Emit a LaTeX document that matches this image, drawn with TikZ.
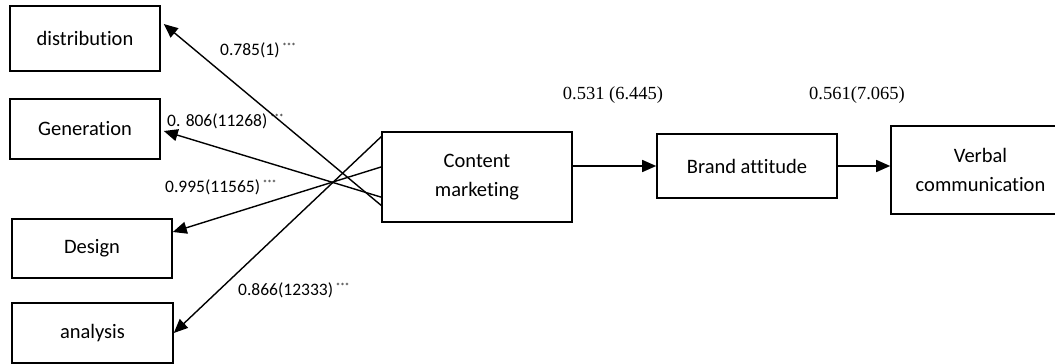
\documentclass[tikz,border=0pt]{standalone}
\usepackage{fontspec}
\setmainfont[Ligatures=NoCommon]{Carlito}
\newfontfamily\numserif{Liberation Serif}
\usetikzlibrary{arrows.meta,calc}
\tikzset{
  box/.style={draw, line width=1.6pt, inner sep=0pt, align=center, font=\fontsize{20.5}{29}\selectfont},
  link/.style={line width=1.4pt, -{Triangle[length=14pt,width=12pt]}},
  coef/.style={inner sep=0pt, anchor=west, font=\fontsize{17.5}{20}\selectfont},
  path/.style={inner sep=0pt, font=\numserif\fontsize{18.5}{20}\selectfont}
}
\newcommand{\stars}{\,\raisebox{6pt}{\fontsize{9}{9}\selectfont ***}}
\begin{document}
\begin{tikzpicture}[x=1pt,y=-1pt]
\useasboundingbox (0,0) rectangle (1055,364);

% outcome boxes on the left
\node[box, minimum width=150pt, minimum height=65pt] (dist) at (85,38.5) {distribution};
\node[box, minimum width=150pt, minimum height=60pt] (gen)  at (85,129) {Generation};
\node[box, minimum width=160pt, minimum height=59pt] (des)  at (92,248.5) {Design};
\node[box, minimum width=161pt, minimum height=60pt] (ana)  at (92.5,333) {analysis};

% main chain
\node[box, minimum width=190pt, minimum height=90pt] (cm) at (477,177) {Content\\marketing};
\node[box, minimum width=180pt, minimum height=64pt] (ba) at (747,166) {Brand attitude};
\node[box, minimum width=179pt, minimum height=88pt] (vc) at (980.5,170) {Verbal\\communication};

% start points on the left side of Content marketing
\coordinate (s1) at ($(cm.north west)!0.81!(cm.south west)$);
\coordinate (s2) at ($(cm.north west)!0.72!(cm.south west)$);
\coordinate (s3) at ($(cm.north west)!0.39!(cm.south west)$);
\coordinate (s4) at ($(cm.north west)!0.06!(cm.south west)$);

\draw[link] (s1) -- ([xshift=3pt,yshift=14.5pt]dist.east);
\draw[link] (s2) -- ([xshift=3pt,yshift=-2pt]gen.east);
\draw[link] (s3) -- ([yshift=16.5pt]des.east);
\draw[link] (s4) -- ([yshift=0pt]ana.east);

\draw[link] (cm.east |- ba.west) -- (ba.west);
\draw[link] (ba.east) -- (ba.east -| vc.west);

% coefficients
\node[coef] (l1) at (220,50)  {0.785(1)\stars};
\node[coef] (l2) at (167,121) {0. 806(11268)\stars};
\node[coef] (l3) at (165,187) {0.995(11565)\stars};
\node[coef] (l4) at (238,290) {0.866(12333)\stars};

\node[path] (p1) at (613,95) {0.531 (6.445)};
\node[path] (p2) at (857,95) {0.561(7.065)};
\end{tikzpicture}
\end{document}
